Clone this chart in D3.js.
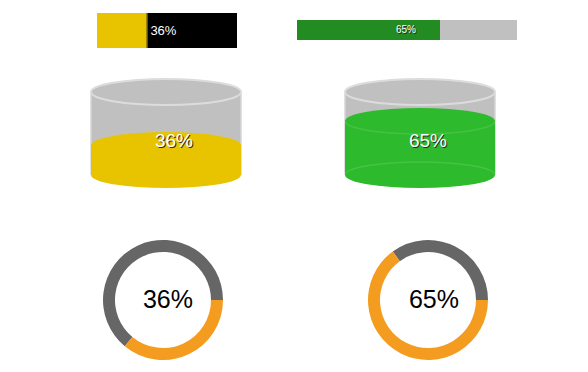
<!DOCTYPE html>
<html><head><meta charset="utf-8">
<script src="https://cdn.jsdelivr.net/npm/d3@7"></script>
<style>body{margin:0;background:#fff}svg{display:block;font-family:"Liberation Sans",Arial,sans-serif}</style>
</head><body>
<script>
const values = [36, 65];
const labels = ["36%", "65%"];
const barFill = ["#E8C400", "#228B22"];
const barBack = ["#000000", "#C0C0C0"];
const cylFill = ["#E8C400", "#2DBA2D"];
const donutColors = ["#F39C1F", "#666666"];

const svg = d3.select("body").append("svg").attr("width", 588).attr("height", 372);

function shadowText(g, x, y, txt, size, anchor) {
  g.append("text").attr("x", x + 1).attr("y", y + 1).attr("text-anchor", anchor)
    .attr("font-size", size).attr("fill", "#222").attr("opacity", 0.9).text(txt);
  g.append("text").attr("x", x).attr("y", y).attr("text-anchor", anchor)
    .attr("font-size", size).attr("fill", "#fff").text(txt);
}

// Progress bars
const bars = [{x: 97, y: 13, w: 140, h: 35}, {x: 297, y: 20, w: 220, h: 20}];
bars.forEach((b, i) => {
  const sx = d3.scaleLinear().domain([0, 100]).range([0, b.w]);
  const g = svg.append("g");
  g.append("rect").attr("x", b.x).attr("y", b.y).attr("width", b.w).attr("height", b.h).attr("fill", barBack[i]);
  g.append("rect").attr("x", b.x).attr("y", b.y).attr("width", sx(values[i])).attr("height", b.h).attr("fill", barFill[i]);
  if (i === 0) {
    g.append("rect").attr("x", b.x + sx(values[i]) - 1).attr("y", b.y).attr("width", 1).attr("height", b.h).attr("fill", "#6b5a00");
    g.append("text").attr("x", b.x + sx(values[i]) + 3).attr("y", b.y + 22).attr("font-size", 13).attr("fill", "#fff").text(labels[i]);
  } else {
    shadowText(g, b.x + sx(values[i]) - 34, b.y + 13, labels[i], 10, "middle");
  }
});

// Cylinders
const cyls = [{cx: 166, tx: 174}, {cx: 420, tx: 428}];
const rx = 75, ry = 13, topY = 92, botY = 175;
cyls.forEach((c, i) => {
  const sy = d3.scaleLinear().domain([0, 100]).range([botY, topY]);
  const g = svg.append("g");
  const lvl = sy(values[i]);
  g.append("rect").attr("x", c.cx - rx).attr("y", topY).attr("width", 2 * rx).attr("height", botY - topY).attr("fill", "#C0C0C0");
  g.append("ellipse").attr("cx", c.cx).attr("cy", topY).attr("rx", rx).attr("ry", ry).attr("fill", "#C0C0C0");
  g.append("line").attr("x1", c.cx - rx).attr("x2", c.cx - rx).attr("y1", topY).attr("y2", botY).attr("stroke", "#D6D6D6").attr("stroke-width", 1.5);
  g.append("line").attr("x1", c.cx + rx).attr("x2", c.cx + rx).attr("y1", topY).attr("y2", botY).attr("stroke", "#D6D6D6").attr("stroke-width", 1.5);
  g.append("ellipse").attr("cx", c.cx).attr("cy", botY).attr("rx", rx).attr("ry", ry).attr("fill", cylFill[i]);
  g.append("rect").attr("x", c.cx - rx).attr("y", lvl).attr("width", 2 * rx).attr("height", botY - lvl).attr("fill", cylFill[i]);
  g.append("ellipse").attr("cx", c.cx).attr("cy", lvl).attr("rx", rx).attr("ry", ry).attr("fill", cylFill[i]);
  if (i === 1) {
    g.append("path").attr("d", `M${c.cx - rx},${lvl} A${rx},${ry} 0 0 0 ${c.cx + rx},${lvl}`).attr("fill", "none").attr("stroke", "rgba(255,255,255,0.12)").attr("stroke-width", 1.5);
    g.append("path").attr("d", `M${c.cx - rx},${botY} A${rx},${ry} 0 0 1 ${c.cx + rx},${botY}`).attr("fill", "none").attr("stroke", "rgba(255,255,255,0.12)").attr("stroke-width", 1.5);
  }
  g.append("ellipse").attr("cx", c.cx).attr("cy", topY).attr("rx", rx).attr("ry", ry).attr("fill", "none").attr("stroke", "#DCDCDC").attr("stroke-width", 2);
  shadowText(g, c.tx, 147, labels[i], 19, "middle");
});

// Donuts
const donuts = [{cx: 163, tx: 168}, {cx: 428, tx: 434}];
const cy = 300;
donuts.forEach((d, i) => {
  const ang = d3.scaleLinear().domain([0, 100]).range([0, 2 * Math.PI]);
  const arc = d3.arc().innerRadius(48).outerRadius(60);
  const g = svg.append("g").attr("transform", `translate(${d.cx},${cy})`);
  const start = Math.PI / 2;
  g.append("path").attr("d", arc({startAngle: start + ang(values[i]), endAngle: start + 2 * Math.PI})).attr("fill", donutColors[1]);
  g.append("path").attr("d", arc({startAngle: start, endAngle: start + ang(values[i])})).attr("fill", donutColors[0]);
  svg.append("text").attr("x", d.tx).attr("y", cy + 8).attr("text-anchor", "middle").attr("font-size", 25).attr("fill", "#000").text(labels[i]);
});
</script>
</body></html>
